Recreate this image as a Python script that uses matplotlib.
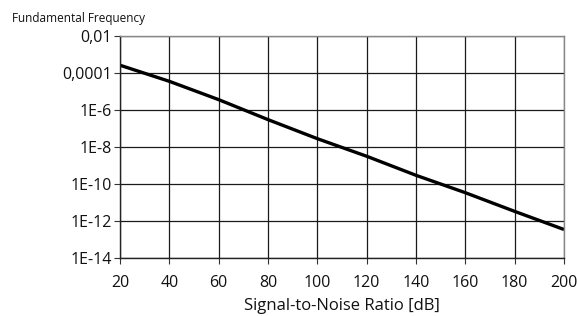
import matplotlib
matplotlib.use("Agg")
import matplotlib.pyplot as plt
from matplotlib.ticker import FixedLocator, FixedFormatter, NullLocator

snr_db = [20, 40, 60, 80, 100, 120, 140, 160, 180, 200]
log_freq = [-3.58, -4.45, -5.44, -6.52, -7.55, -8.50, -9.53, -10.47, -11.48, -12.46]
freq = [10 ** v for v in log_freq]

y_ticks = [1e-14, 1e-12, 1e-10, 1e-8, 1e-6, 1e-4, 1e-2]
y_labels = ["1E-14", "1E-12", "1E-10", "1E-8", "1E-6", "0,0001", "0,01"]
x_ticks = [20, 40, 60, 80, 100, 120, 140, 160, 180, 200]

plt.rcParams['font.family'] = ['Open Sans', 'DejaVu Sans']

fig = plt.figure(figsize=(5.77, 3.16), dpi=100)
ax = fig.add_axes([120 / 577, 1 - 258 / 316, (564 - 120) / 577, (258 - 36) / 316])

ax.plot(snr_db, freq, color='black', lw=2.4, solid_capstyle='butt')
ax.set_yscale('log')
ax.set_xlim(20, 200)
ax.set_ylim(1e-14, 1e-2)

ax.yaxis.set_major_locator(FixedLocator(y_ticks))
ax.yaxis.set_major_formatter(FixedFormatter(y_labels))
ax.yaxis.set_minor_locator(NullLocator())
ax.xaxis.set_major_locator(FixedLocator(x_ticks))
ax.xaxis.set_minor_locator(NullLocator())

ax.grid(True, color='#1a1a1a', lw=0.9)
ax.set_axisbelow(True)
ax.tick_params(axis='both', labelsize=11.5, length=4, width=0.8, color='#333333', labelcolor='#111111')
ax.tick_params(axis='y', pad=2)
ax.tick_params(axis='x', pad=8)
for s in ['left', 'bottom']:
    ax.spines[s].set_color('#222222')
    ax.spines[s].set_linewidth(1.0)
for s in ['top', 'right']:
    ax.spines[s].set_color('#888888')
    ax.spines[s].set_linewidth(1.0)

ax.set_xlabel("Signal-to-Noise Ratio [dB]", fontsize=12, labelpad=5, color='#111111')
fig.text(12 / 577, 1 - 22 / 316, "Fundamental Frequency", fontsize=8.5, color='#111111', va='baseline')

fig.savefig("out.png", dpi=100)
